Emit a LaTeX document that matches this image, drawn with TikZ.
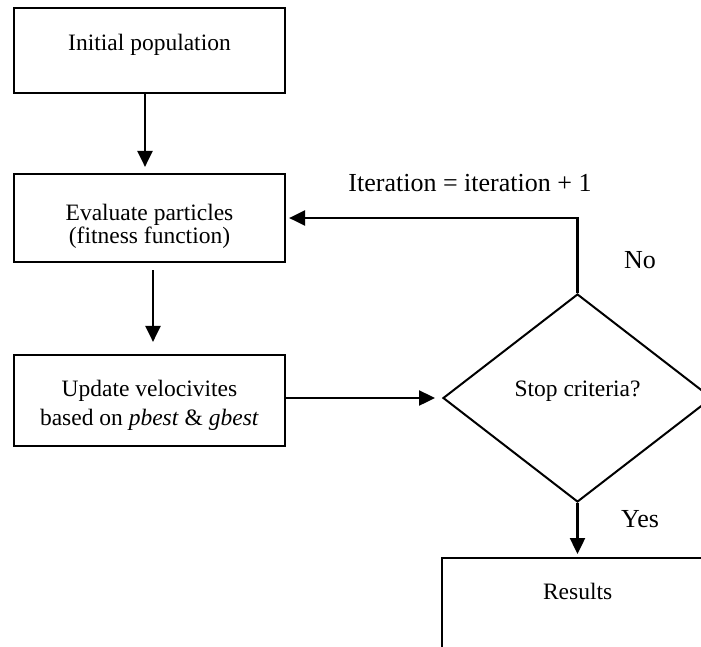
\documentclass[tikz,border=0pt]{standalone}
\usepackage{fontspec}
\setmainfont{Liberation Serif}
\usetikzlibrary{shapes.geometric,arrows.meta}
\begin{document}
\begin{tikzpicture}[x=1pt,y=-1pt,
  box/.style={draw,line width=2.2pt,minimum width=271pt,inner sep=0pt,align=center,
    font=\fontsize{23.5}{25}\selectfont},
  decision/.style={diamond,draw,line width=2pt,minimum width=269pt,minimum height=208pt,
    inner sep=0pt,font=\fontsize{23.5}{25}\selectfont},
  flow/.style={line width=2.4pt,-{Triangle[length=16pt,width=15pt]}},
  lbl/.style={font=\fontsize{26}{28}\selectfont,inner sep=0pt,anchor=base}]
\useasboundingbox (0,0) rectangle (701,646);
\clip (0,0) rectangle (701,646);

% process boxes
\node[box,minimum height=85pt,text depth=17pt] (init) at (149.5,50.5) {Initial population};
\node[box,minimum height=88pt,font=\fontsize{23.5}{21}\selectfont] (eval) at (149.5,218)
  {\rule{0pt}{33pt}Evaluate particles\\(fitness function)};
\node[box,minimum height=91pt,font=\fontsize{23.5}{29}\selectfont] (update) at (149.5,400.5)
  {\rule{0pt}{26pt}Update velocivites\\based on \textit{pbest} \& \textit{gbest}};

% decision and final box
\node[decision,text depth=18pt] (stop) at (577.5,398) {Stop criteria?};
\node[box,anchor=north west,text height=41pt,text depth=100pt] (res) at (441,557) {Results};

% connectors
\draw[flow,shorten >=6pt] ([xshift=-4.5pt]init.south) -- ([xshift=-4.5pt]eval.north);
\draw[flow,shorten <=7pt,shorten >=12pt] ([xshift=3.5pt]eval.south) -- ([xshift=3.5pt]update.north);
\draw[flow,shorten >=7pt] (update.east |- stop.west) -- (stop.west);
\draw[flow,shorten >=3pt] (stop.north) |- (eval.east);
\draw[flow,shorten >=3pt] (stop.south) -- (stop.south |- res.north);

% labels
\node[lbl] (iter) at (470,191) {Iteration = iteration + 1};
\node[lbl] (no) at (640,268) {No};
\node[lbl] (yes) at (640,527) {Yes};
\end{tikzpicture}
\end{document}
